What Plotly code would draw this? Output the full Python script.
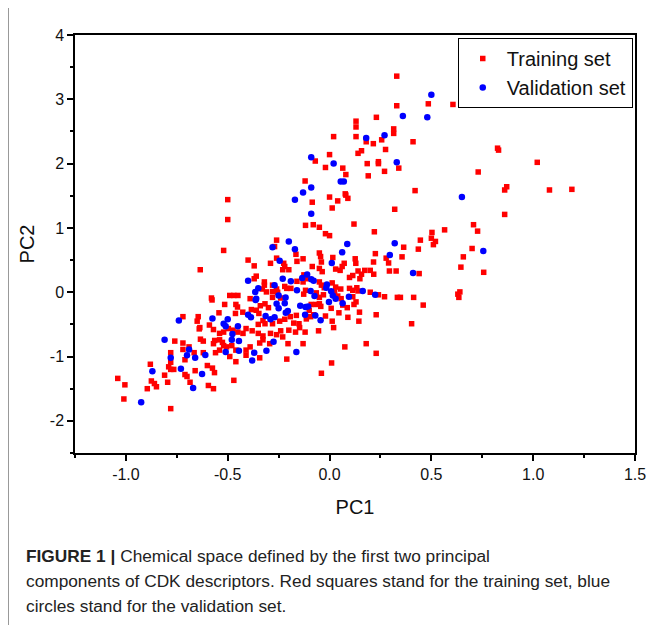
import plotly.graph_objects as go

# ---------------- data ----------------
train_pc1 = [
    0.02, 0.0, -0.07, -0.02, 0.065, 0.08, -0.12, 0.077,
    0.33, 0.33, 0.485, 0.606, 0.23, 0.13, 0.13, 0.13, 0.18, 0.215, 0.256, 0.315, 0.315, 0.41, 0.275, 0.157, 0.14,
    0.825, 0.83, 0.185, 0.24, 0.24, 0.34, 0.27, 0.19, 1.02, 0.73, 0.42, 0.87, 0.86, 1.08, 1.19,
    -0.635, -0.50, -0.50, -0.52, -0.26, -0.27, -0.165, -0.26, -0.40, -0.29, -0.37, -0.225, -0.22, -0.20, -0.16,
    -0.23, -0.36, -0.37, -0.16, -0.32, -0.32, -0.33, -0.31, -0.28, -0.26, -0.255, -0.22, -0.21, -0.19, -0.28,
    -0.58, -0.49, -0.47, -0.45, -0.39, -0.28, -0.24,
    -0.085, 0.0, 0.013, 0.04, 0.08, 0.09, 0.32, -0.118, -0.08, -0.05, 0.12, -0.02, 0.0, 0.22, 0.225, -0.05,
    -0.044, -0.13, 0.016, 0.126, 0.129, 0.072, 0.062, 0.052, 0.216, 0.278, 0.29, 0.294, 0.327, 0.03, -0.04,
    -0.05, -0.036, -0.085, 0.14, 0.173, 0.149, 0.157, 0.114, 0.098, 0.20, 0.217, -0.126, -0.11, -0.13, -0.05,
    -0.04, -0.026, 0.013, 0.03, 0.055, 0.098, 0.114, 0.134, 0.14, 0.2, 0.24, 0.27, 0.333, 0.025, 0.04, -0.118,
    -0.127, -0.065, -0.05, -0.03, 0.057, 0.114,
    0.86, 0.707, 0.727, 0.565, 0.503, 0.50, 0.52, 0.51, 0.446, 0.364, 0.436, 0.356, 0.70, 0.657, 0.645, 0.757,
    0.44, 0.348, 0.413, 0.64, 0.63, 0.635,
    -0.72, -0.65, -0.645, -0.64, -0.76, -0.72, -0.72, -0.69, -0.665, -0.78, -0.71, -0.78, -0.79, -0.78, -0.765,
    -0.88, -0.66, -0.81, -0.71, -0.70, -0.795, -0.685, -0.875, -0.86, -1.04, -1.005, -0.895, -0.85, -1.01, -0.78,
    -0.577, -0.515, -0.46, -0.452, -0.384, -0.34, -0.317, -0.30, -0.543, -0.462, -0.426, -0.36, -0.347, -0.327,
    -0.35, -0.317, -0.28, -0.245, -0.22, -0.193, -0.163, -0.176, -0.15, -0.20, -0.24, -0.26, -0.29, -0.327, -0.35,
    -0.38, -0.41, -0.425, -0.45, -0.474, -0.497, -0.52, -0.54, -0.57, -0.59, -0.637, -0.564, -0.54, -0.526, -0.506,
    -0.48, -0.54, -0.52, -0.46, -0.41, -0.39, -0.343, -0.327, -0.294, -0.23, -0.204, -0.167, -0.634, -0.62, -0.62,
    -0.57, -0.56, -0.49, -0.46, -0.41, -0.343, -0.21, -0.60, -0.575, -0.565, -0.47, -0.595, -0.57,
    -0.09, -0.065, -0.05, -0.043, 0.065, 0.087, 0.12, 0.13, -0.10, -0.114, -0.093, -0.078, -0.02, 0.008, 0.046,
    0.09, 0.147, 0.144, 0.229, 0.013, 0.02, -0.054, -0.147, -0.12, -0.13, 0.075, 0.18, 0.229, 0.01, -0.04,
    0.46, 0.403,
]
train_pc2 = [
    2.42, 2.14, 2.04, 1.94, 1.93, 1.83, 1.73, 1.53,
    3.36, 2.90, 2.93, 2.92, 2.72, 2.66, 2.57, 2.42, 2.34, 2.31, 2.37, 2.54, 2.47, 2.34, 2.22, 2.20, 2.16,
    2.24, 2.21, 2.0, 2.03, 2.0, 1.93, 1.88, 1.81, 2.02, 1.87, 1.58, 1.64, 1.59, 1.59, 1.60,
    0.35, 1.44, 1.13, 0.65, 0.81, 0.71, 0.59, 0.53, 0.50, 0.45, 0.41, 0.45, 0.40, 0.35, 0.48,
    0.35, 0.25, 0.21, 0.17, 0.16, 0.11, 0.05, 0.005, 0.11, 0.05, 0.0, 0.09, 0.06, 0.06, 0.01,
    -0.09, -0.05, -0.05, -0.05, -0.10, -0.08, -0.09,
    1.40, 1.48, 1.31, 1.42, 1.51, 1.46, 1.29, 1.04, 1.05, 1.01, 1.06, 0.91, 0.88, 0.94, 0.60, 0.61,
    0.555, 0.52, 0.54, 0.52, 0.45, 0.45, 0.40, 0.34, 0.47, 0.53, 0.455, 0.33, 0.33, 0.36, 0.47,
    0.37, 0.32, 0.40, 0.33, 0.34, 0.21, 0.28, 0.26, 0.23, 0.34, 0.28, 0.27, 0.21, 0.16, 0.16,
    0.11, 0.07, 0.145, 0.08, 0.05, 0.06, 0.03, 0.07, 0.02, 0.0, -0.04, -0.07, -0.08, 0.005, -0.06, 0.03,
    -0.03, -0.01, -0.08, -0.04, -0.10, -0.07,
    1.21, 1.05, 0.95, 0.97, 0.93, 0.84, 0.79, 0.74, 0.81, 0.70, 0.67, 0.55, 0.68, 0.55, 0.39, 0.31,
    0.29, -0.08, -0.08, 0.005, -0.03, -0.08,
    -0.38, -0.45, -0.38, -0.57, -0.76, -0.79, -0.89, -0.85, -0.94, -0.94, -1.05, -1.09, -1.16, -1.20, -1.20,
    -1.12, -1.22, -1.29, -1.28, -1.31, -1.40, -1.40, -1.38, -1.42, -1.34, -1.44, -1.50, -1.47, -1.66, -1.81,
    -0.12, -0.19, -0.19, -0.23, -0.27, -0.21, -0.18, -0.24, -0.32, -0.33, -0.31, -0.28, -0.33, -0.44,
    -0.50, -0.49, -0.49, -0.45, -0.42, -0.38, -0.36, -0.48, -0.49, -0.59, -0.60, -0.66, -0.64, -0.68, -0.64,
    -0.60, -0.565, -0.64, -0.62, -0.59, -0.565, -0.62, -0.64, -0.58, -0.51, -0.55, -0.75, -0.74, -0.78, -0.85,
    -0.83, -0.90, -0.83, -0.90, -0.90, -0.85, -0.79, -0.74, -0.80, -0.695, -0.80, -0.62, -0.73, -0.76, -0.94,
    -0.80, -0.94, -1.0, -1.08, -0.98, -1.02, -1.04, -1.14, -1.18, -1.25, -1.37, -1.45, -1.50,
    -0.19, -0.19, -0.18, -0.22, -0.20, -0.24, -0.19, -0.15, -0.28, -0.415, -0.38, -0.35, -0.37, -0.25, -0.32,
    -0.39, -0.31, -0.45, -0.35, -0.45, -0.55, -0.60, -0.55, -0.62, -0.80, -0.85, -0.80, -0.95, -1.10, -1.26,
    -0.20, -0.49,
]
val_pc1 = [
    -0.09, 0.02, 0.055, 0.07, -0.09, -0.13,
    0.50, 1.14, 0.36, 0.48, 0.18, 0.27, 0.33,
    -0.17, -0.20, -0.28, -0.17, -0.245, -0.40, -0.23, -0.19, -0.35, -0.365, -0.27, -0.16, -0.36, -0.25, -0.216,
    -0.09, 0.087, 0.32, 0.062, 0.296, 0.011, -0.134, -0.09, -0.078, -0.11, -0.013, -0.016, 0.163, 0.224, 0.008,
    0.016, -0.093, -0.074, 0.095, 0.03,
    0.65, 0.755, 0.41,
    -0.74, -0.81, -0.69, -0.70, -0.66, -0.78, -0.73, -0.87, -0.67, -0.925,
    -0.363, -0.26, -0.25, -0.22, -0.215, -0.205, -0.575, -0.50, -0.52, -0.51, -0.45, -0.40, -0.386, -0.314,
    -0.29, -0.27, -0.477, -0.48, -0.445, -0.445, -0.51, -0.37, -0.31, -0.38, -0.275, -0.163, -0.61, -0.626,
    -0.144, -0.118, -0.105, -0.12, -0.07, -0.044, -0.003, 0.064,
]
val_pc2 = [
    2.10, 2.0, 1.72, 1.72, 1.63, 1.55,
    3.07, 3.02, 2.74, 2.72, 2.40, 2.44, 2.02,
    1.44, 0.79, 0.70, 0.67, 0.49, 0.18, 0.21, 0.17, 0.06, 0.005, 0.11, 0.03, -0.10, -0.05, -0.08,
    1.22, 0.75, 0.76, 0.62, 0.58, 0.455, 0.22, 0.20, 0.18, 0.275, 0.12, 0.07, 0.02, -0.04, 0.015,
    -0.05, 0.02, -0.06, -0.07, -0.10,
    1.48, 0.64, 0.30,
    -0.44, -0.74, -0.89, -0.98, -1.02, -1.02, -1.19, -1.23, -1.49, -1.71,
    -0.12, -0.18, -0.25, -0.17, -0.32, -0.29, -0.41, -0.42, -0.49, -0.53, -0.53, -0.35, -0.39, -0.37,
    -0.42, -0.39, -0.65, -0.74, -0.76, -0.91, -0.93, -0.94, -0.91, -1.06, -0.77, -0.93, -0.975, -1.27,
    -0.21, -0.23, -0.22, -0.35, -0.36, -0.435, -0.15, -0.17,
]

x_tickvals = [-1.0, -0.5, 0.0, 0.5, 1.0, 1.5]
x_ticktext = ["-1.0", "-0.5", "0.0", "0.5", "1.0", "1.5"]
y_tickvals = [-2, -1, 0, 1, 2, 3, 4]
y_ticktext = ["-2", "-1", "0", "1", "2", "3", "4"]

caption_lines = [
    "<b>FIGURE 1 |</b> Chemical space defined by the first two principal",
    "components of CDK descriptors. Red squares stand for the training set, blue",
    "circles stand for the validation set.",
]

# ---------------- figure ----------------
fig = go.Figure()
fig.add_trace(go.Scatter(
    x=train_pc1, y=train_pc2, mode="markers", name="Training set",
    marker=dict(symbol="square", size=5.5, color="#ff0000", line=dict(width=0)),
))
fig.add_trace(go.Scatter(
    x=val_pc1, y=val_pc2, mode="markers", name="Validation set",
    marker=dict(symbol="circle", size=6.5, color="#0000ff", line=dict(width=0)),
))

font_family = "Liberation Sans, Arial, sans-serif"
axis_common = dict(
    showline=True, linecolor="black", linewidth=1.5, mirror=True,
    ticks="outside", ticklen=6, tickwidth=1.5, tickcolor="black",
    showgrid=False, zeroline=False, automargin=False,
    tickfont=dict(family=font_family, size=16, color="#111"),
)
fig.update_xaxes(
    range=[-1.25, 1.5], tickvals=x_tickvals, ticktext=x_ticktext,
    minor=dict(tick0=-1.25, dtick=0.25, ticks="outside", ticklen=3, tickwidth=1.5, tickcolor="black"),
    title=dict(text="PC1", font=dict(family=font_family, size=20, color="#111"), standoff=18),
    **axis_common,
)
fig.update_yaxes(
    range=[-2.5, 4], tickvals=y_tickvals, ticktext=y_ticktext,
    minor=dict(tick0=-2.5, dtick=0.5, ticks="outside", ticklen=3, tickwidth=1.5, tickcolor="black"),
    title=dict(text="PC2", font=dict(family=font_family, size=20, color="#111"), standoff=10),
    **axis_common,
)

# The page body adds an 8 px offset, so the figure is 8 px smaller and the margins shifted.
W, H = 646, 617
L, R, T, B = 67, 19, 27, 172
plot_w = W - L - R
plot_h = H - T - B

fig.update_layout(
    template="none",
    width=W, height=H,
    margin=dict(l=L, r=R, t=T, b=B),
    plot_bgcolor="white", paper_bgcolor="white",
    showlegend=True,
    legend=dict(
        x=0.996, y=0.993, xanchor="right", yanchor="top",
        bordercolor="black", borderwidth=1, bgcolor="white",
        font=dict(family=font_family, size=20, color="#111"),
        itemwidth=38, tracegroupgap=0,
    ),
)

caption_y = [548, 573, 598]
for text, py in zip(caption_lines, caption_y):
    fig.add_annotation(
        text=text, xref="paper", yref="paper",
        x=(16 - L) / plot_w, y=(T + plot_h - py) / plot_h,
        xanchor="left", yanchor="middle", showarrow=False, align="left",
        font=dict(family=font_family, size=17.3, color="#222"),
    )

# thin frame line on the left side of the figure panel
fig.add_shape(type="line", xref="paper", yref="paper",
              x0=(0.5 - L) / plot_w, x1=(0.5 - L) / plot_w,
              y0=(T + plot_h + 10) / plot_h, y1=(T + plot_h - H - 10) / plot_h,
              line=dict(color="#999", width=1))

fig.write_html("out.html")
